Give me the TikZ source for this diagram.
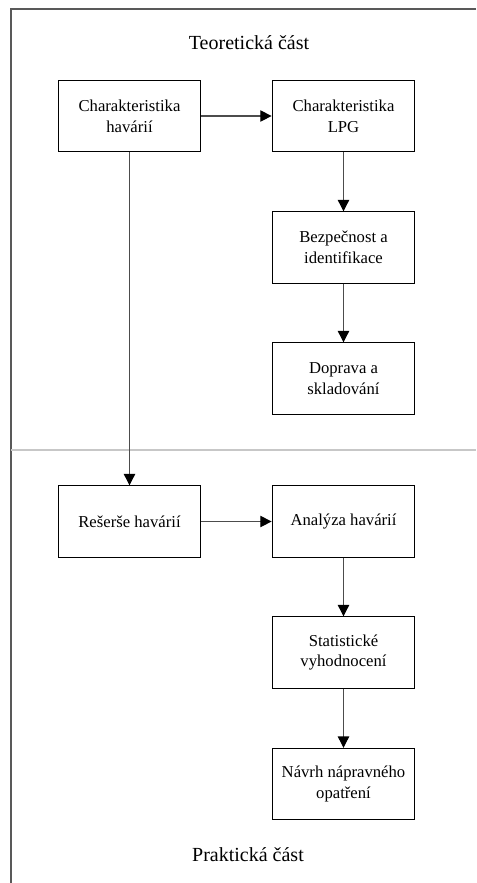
\documentclass[tikz,border=0pt]{standalone}
\usepackage{fontspec}
\setmainfont{Liberation Serif}
\usetikzlibrary{arrows.meta}
\begin{document}
\begin{tikzpicture}[x=0.75pt,y=-0.75pt,
  box/.style={draw=black,line width=0.8pt,minimum width=107pt,minimum height=53.5pt,
    align=center,inner sep=0pt,font=\fontsize{12.5}{15.5}\selectfont},
  title/.style={font=\fontsize{15}{18}\selectfont},
  conn/.style={draw=black!70,line width=0.8pt,-{Triangle[length=8.5pt,width=8.5pt,fill=black,color=black]}},
  frame/.style={draw=black!65,line width=1.2pt},
  divider/.style={draw=black!22,line width=1pt}]
\useasboundingbox (0,0) rectangle (476,883);
\draw[frame] (476,9) -- (11,9) -- (11,883);
\draw[divider] (11,450) -- (476,450);
\node[title] (t1) at (249,43) {Teoretická část};
\node[title] (t2) at (248,855) {Praktická část};
\node[box] (ch) at (129.5,116) {Charakteristika\\havárií};
\node[box] (lpg) at (343.5,116) {Charakteristika\\LPG};
\node[box] (bez) at (343.5,247.5) {Bezpečnost a\\identifikace};
\node[box] (dop) at (343.5,378.5) {Doprava a\\skladování};
\node[box] (res) at (129.5,521.5) {Rešerše havárií};
\node[box] (ana) at (343.5,521.5) {Analýza havárií};
\node[box] (sta) at (343.5,652.5) {Statistické\\vyhodnocení};
\node[box] (nav) at (343.5,784) {Návrh nápravného\\opatření};
\draw[conn] (ch) -- (lpg);
\draw[conn] (lpg) -- (bez);
\draw[conn] (bez) -- (dop);
\draw[conn] (ch) -- (res);
\draw[conn] (res) -- (ana);
\draw[conn] (ana) -- (sta);
\draw[conn] (sta) -- (nav);
\end{tikzpicture}
\end{document}
